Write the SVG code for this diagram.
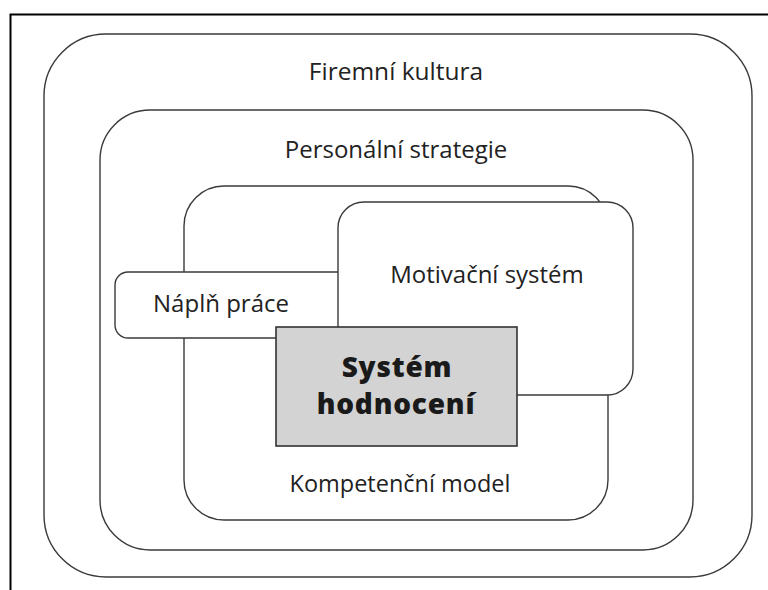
<svg xmlns="http://www.w3.org/2000/svg" width="768" height="590" viewBox="0 0 768 590">
<style>
.box{fill:#fff;stroke:#3a3a3a;stroke-width:1.4}
.lbl{font-family:"Open Sans","Noto Sans",sans-serif;font-size:24px;fill:#222;text-anchor:middle}
.bold{font-family:"Open Sans","Noto Sans",sans-serif;font-size:28px;font-weight:800;letter-spacing:0.8px;fill:#1a1a1a;text-anchor:middle}
</style>
<rect x="0" y="0" width="768" height="590" fill="#fff"/>
<path d="M10.5 590 V14.5 H768" fill="none" stroke="#000" stroke-width="2"/>
<g id="firemni-kultura">
<rect class="box" x="44" y="34" width="708" height="543" rx="62" ry="62"/>
<text class="lbl" x="396" y="80" style="font-size:24.5px">Firemní kultura</text>
</g>
<g id="personalni-strategie">
<rect class="box" x="100" y="110" width="593" height="440" rx="50" ry="50"/>
<text class="lbl" x="396" y="158">Personální strategie</text>
</g>
<g id="kompetencni-model">
<rect class="box" x="184" y="186" width="424" height="334" rx="40" ry="40"/>
<text class="lbl" x="400" y="492" style="font-size:23.5px">Kompetenční model</text>
</g>
<g id="napln-prace">
<rect class="box" x="115" y="272" width="240" height="66" rx="13" ry="13"/>
<text class="lbl" x="221" y="312">Náplň práce</text>
</g>
<g id="motivacni-system">
<rect class="box" x="338" y="202" width="295" height="193" rx="26" ry="26"/>
<text class="lbl" x="487" y="283">Motivační systém</text>
</g>
<g id="system-hodnoceni">
<rect x="276" y="327" width="241" height="119" fill="#d3d3d3" stroke="#333" stroke-width="1.6"/>
<text class="bold" x="397" y="377">Systém</text>
<text class="bold" x="396" y="414">hodnocení</text>
</g>
<g id="connectors"/>
</svg>
